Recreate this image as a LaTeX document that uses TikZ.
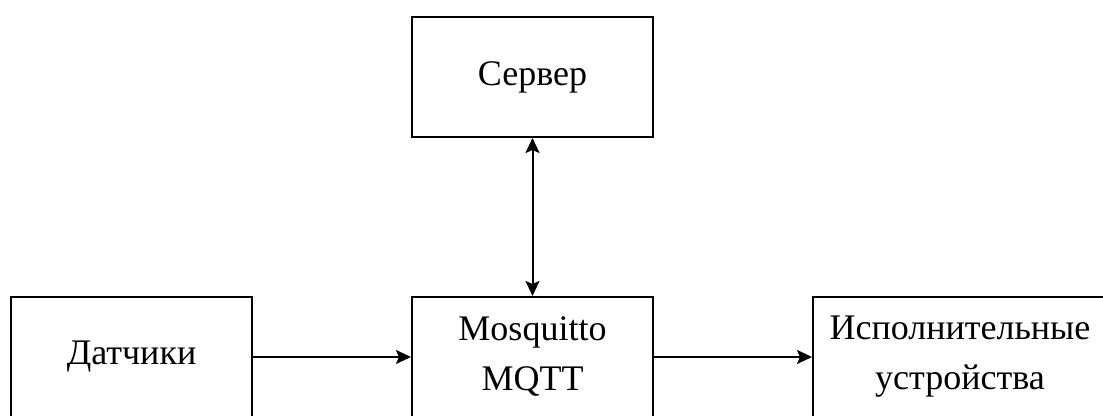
\documentclass[tikz,border=0pt]{standalone}
\usepackage{fontspec}
\setmainfont{Liberation Serif}
\usetikzlibrary{arrows.meta}
\tikzset{
  box/.style={draw, line width=2pt, minimum width=241pt, minimum height=120pt,
    inner sep=0pt, align=center, font=\fontsize{36}{50}\selectfont},
  arr/.style={line width=2pt, -{Stealth[length=15pt, width=14pt, inset=3pt]}},
  dblarr/.style={line width=2pt, {Stealth[length=15pt, width=14pt, inset=3pt]}-{Stealth[length=15pt, width=14pt, inset=3pt]}}
}
\begin{document}
\begin{tikzpicture}[x=1pt, y=1pt]
	  \useasboundingbox (0,0) rectangle (1103,415);
	  \clip (0,0) rectangle (1103,415);
	  %\fill[white] (0,0) rectangle (1103,415);
	  \node[box] (server) at (532.5,338) {Сервер};
	  \node[box] (sensors) at (131.5,58) {Датчики};
	  \node[box] (broker) at (532.5,58) {Mosquitto\\MQTT};
	  \node[box, minimum width=294pt] (actuators) at (960,58) {Исполнительные\\устройства};
	  \draw[arr] (sensors) -- (broker);
	  \draw[arr] (broker) -- (actuators);
	  \draw[dblarr] (broker) -- (server);
	\end{tikzpicture}
\end{document}
